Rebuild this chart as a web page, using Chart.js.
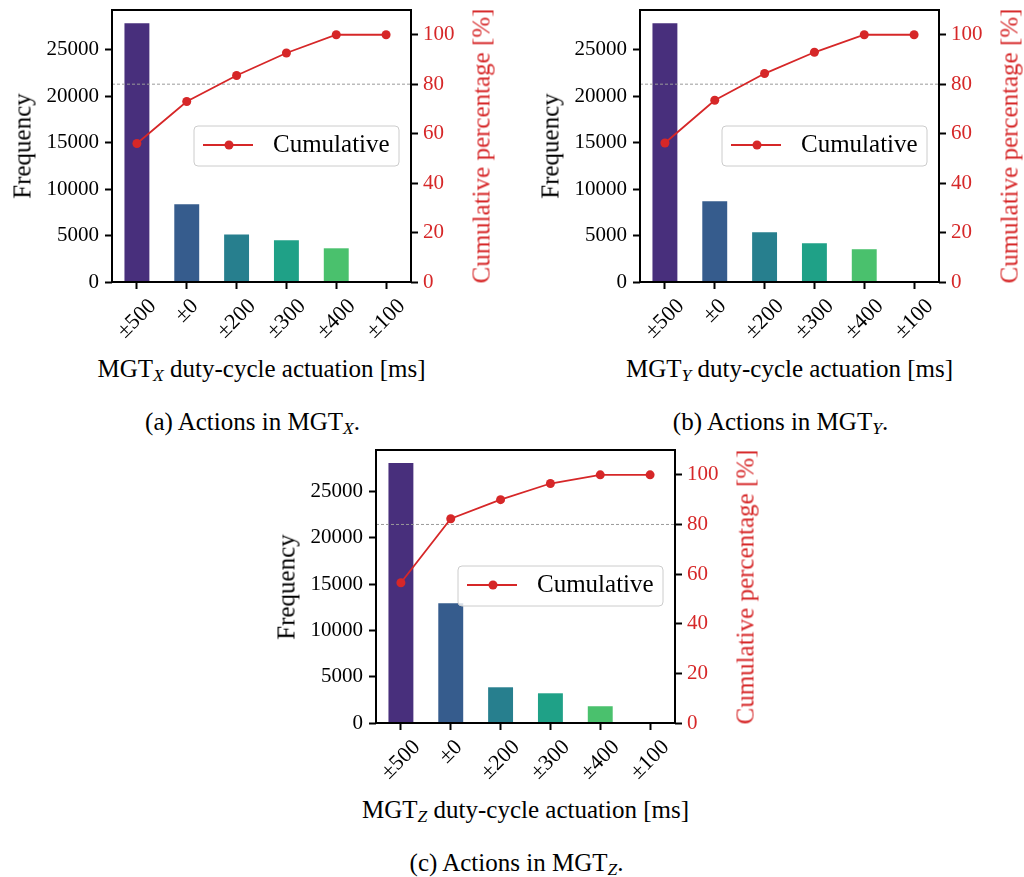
<!DOCTYPE html>
<html>
<head>
<meta charset="utf-8">
<script src="https://cdn.jsdelivr.net/npm/chart.js@4"></script>
<style>
  body { margin: 0; background: #fff; width: 1024px; height: 877px; position: relative; overflow: hidden;
         font-family: "Liberation Serif", serif; color: #000; }
  canvas { position: absolute; }
  .lbl { position: absolute; white-space: nowrap; font-size: 25px; line-height: 1; transform: translate(-50%, -50%); }
  .rot { transform: translate(-50%, -50%) rotate(-90deg); }
  .red { color: #d62728; }
  sub { font-size: 0.7em; vertical-align: -0.25em; line-height: 0; }
</style>
</head>
<body>
<script>
const categories = ['±500', '±0', '±200', '±300', '±400', '±100'];

const freqX = [27880, 8380, 5110, 4500, 3630, 0];
const cumX = [56.0, 73.0, 83.5, 92.6, 100, 100];

const freqY = [27880, 8700, 5360, 4170, 3530, 0];
const cumY = [56.2, 73.5, 84.3, 92.9, 100, 100];

const freqZ = [28100, 12950, 3860, 3210, 1810, 0];
const cumZ = [56.5, 82.3, 90.0, 96.5, 100, 100];

const freqTicks = [0, 5000, 10000, 15000, 20000, 25000];
const pctTicks = [0, 20, 40, 60, 80, 100];

const barColors = ['#482f7c', '#365c8d', '#277f8e', '#1fa187', '#4ac16d', '#a0da39'];
const red = '#d62728';

const panels = [
  { id: 'a', axis: 'X', freq: freqX, cum: cumX, yMax: 29300, plot: [112, 10, 411, 282] },
  { id: 'b', axis: 'Y', freq: freqY, cum: cumY, yMax: 29300, plot: [640, 10, 939, 282] },
  { id: 'c', axis: 'Z', freq: freqZ, cum: cumZ, yMax: 29500, plot: [376, 450, 675, 723] }
];

// dashed 80% line, frame, centred rotated x labels, legend
const decor = {
  id: 'decor',
  afterDatasetDraw(chart, args) {
    if (args.meta.type !== 'bar') return;
    const ctx = chart.ctx, ca = chart.chartArea;
    const y = chart.scales.y2.getPixelForValue(80);
    ctx.save();
    ctx.strokeStyle = '#9a9a9a';
    ctx.lineWidth = 1;
    ctx.setLineDash([3, 2]);
    ctx.beginPath();
    ctx.moveTo(ca.left, y);
    ctx.lineTo(ca.right, y);
    ctx.stroke();
    ctx.restore();
  },
  afterDatasetsDraw(chart) {
    const ctx = chart.ctx, ca = chart.chartArea;
    ctx.save();
    ctx.strokeStyle = '#000';
    ctx.lineWidth = 2;
    ctx.strokeRect(ca.left, ca.top, ca.right - ca.left, ca.bottom - ca.top);

    // x tick labels, rotated 45 and centred on the tick
    ctx.font = '22px "Liberation Serif"';
    ctx.fillStyle = '#000';
    ctx.textAlign = 'center';
    ctx.textBaseline = 'middle';
    const xs = chart.scales.x;
    categories.forEach((c, i) => {
      const w = ctx.measureText(c).width;
      const half = (w + 14) * Math.SQRT1_2 / 2;
      ctx.save();
      ctx.translate(xs.getPixelForTick(i), ca.bottom + 16 + half);
      ctx.rotate(-Math.PI / 4);
      ctx.fillText(c, 0, 0);
      ctx.restore();
    });

    // legend
    const lx = ca.left + 82, ly = ca.top + 116;
    ctx.beginPath();
    ctx.roundRect(lx, ly, 205, 40, 4);
    ctx.fillStyle = 'rgba(255,255,255,0.8)';
    ctx.fill();
    ctx.strokeStyle = '#cccccc';
    ctx.lineWidth = 1;
    ctx.stroke();
    ctx.strokeStyle = red;
    ctx.lineWidth = 1.8;
    ctx.beginPath();
    ctx.moveTo(lx + 9, ly + 19);
    ctx.lineTo(lx + 59, ly + 19);
    ctx.stroke();
    ctx.fillStyle = red;
    ctx.beginPath();
    ctx.arc(lx + 35, ly + 19, 4.5, 0, Math.PI * 2);
    ctx.fill();
    ctx.fillStyle = '#000';
    ctx.font = '25px "Liberation Serif"';
    ctx.textAlign = 'left';
    ctx.textBaseline = 'alphabetic';
    ctx.fillText('Cumulative', lx + 79, ly + 26);
    ctx.restore();
  }
};

function addLabel(html, x, y, cls) {
  const d = document.createElement('div');
  d.className = 'lbl ' + (cls || '');
  d.innerHTML = html;
  d.style.left = x + 'px';
  d.style.top = y + 'px';
  document.body.appendChild(d);
}

const tickGrid = { drawOnChartArea: false, drawTicks: true, tickLength: 7, tickWidth: 2, tickColor: '#000' };
const tickFont = { family: '"Liberation Serif"', size: 21 };

panels.forEach((p) => {
  const [l, t, r, b] = p.plot;
  const pw = r - l, ph = b - t;
  const canvas = document.createElement('canvas');
  canvas.width = 112 + pw + 60;
  canvas.height = 10 + ph + 64;
  canvas.style.left = (l - 112) + 'px';
  canvas.style.top = (t - 10) + 'px';
  document.body.appendChild(canvas);

  new Chart(canvas, {
    type: 'bar',
    data: {
      labels: categories,
      datasets: [
        {
          type: 'line', label: 'Cumulative', data: p.cum, yAxisID: 'y2', order: 0,
          borderColor: red, backgroundColor: red, borderWidth: 1.8,
          pointRadius: 4.5, pointBorderWidth: 0, pointBackgroundColor: red
        },
        {
          type: 'bar', label: 'Frequency', data: p.freq, yAxisID: 'y', order: 1,
          backgroundColor: barColors, barPercentage: 0.5, categoryPercentage: 1
        }
      ]
    },
    options: {
      responsive: false,
      animation: false,
      events: [],
      devicePixelRatio: 1,
      layout: { padding: { left: 0, top: 10, right: 0, bottom: 0 } },
      plugins: { legend: { display: false }, tooltip: { enabled: false } },
      scales: {
        x: {
          offset: true,
          grid: Object.assign({ offset: false }, tickGrid),
          border: { display: false },
          ticks: { display: false },
          afterFit: (s) => { s.height = 64; s.paddingLeft = 0; s.paddingRight = 0; }
        },
        y: {
          position: 'left', min: 0, max: p.yMax,
          grid: tickGrid,
          border: { display: false },
          ticks: { color: '#000', padding: 6, font: tickFont, autoSkip: false, callback: (v) => String(v) },
          afterBuildTicks: (s) => { s.ticks = freqTicks.map((v) => ({ value: v })); },
          afterFit: (s) => { s.width = 112; s.paddingTop = 0; s.paddingBottom = 0; }
        },
        y2: {
          position: 'right', min: 0, max: 110,
          grid: tickGrid,
          border: { display: false },
          ticks: { color: red, padding: 5, font: tickFont, autoSkip: false, callback: (v) => String(v) },
          afterBuildTicks: (s) => { s.ticks = pctTicks.map((v) => ({ value: v })); },
          afterFit: (s) => { s.width = 60; s.paddingTop = 0; s.paddingBottom = 0; }
        }
      }
    },
    plugins: [decor]
  });

  const cx = (l + r) / 2, cy = (t + b) / 2;
  addLabel('MGT<sub><i>' + p.axis + '</i></sub> duty-cycle actuation [ms]', cx, b + 86);
  addLabel('(' + p.id + ') Actions in MGT<sub><i>' + p.axis + '</i></sub>.', cx - 9, b + 139);
  addLabel('Frequency', l - 90, cy, 'rot');
  addLabel('Cumulative percentage [%]', r + 70, cy, 'rot red');
});
</script>
</body>
</html>
